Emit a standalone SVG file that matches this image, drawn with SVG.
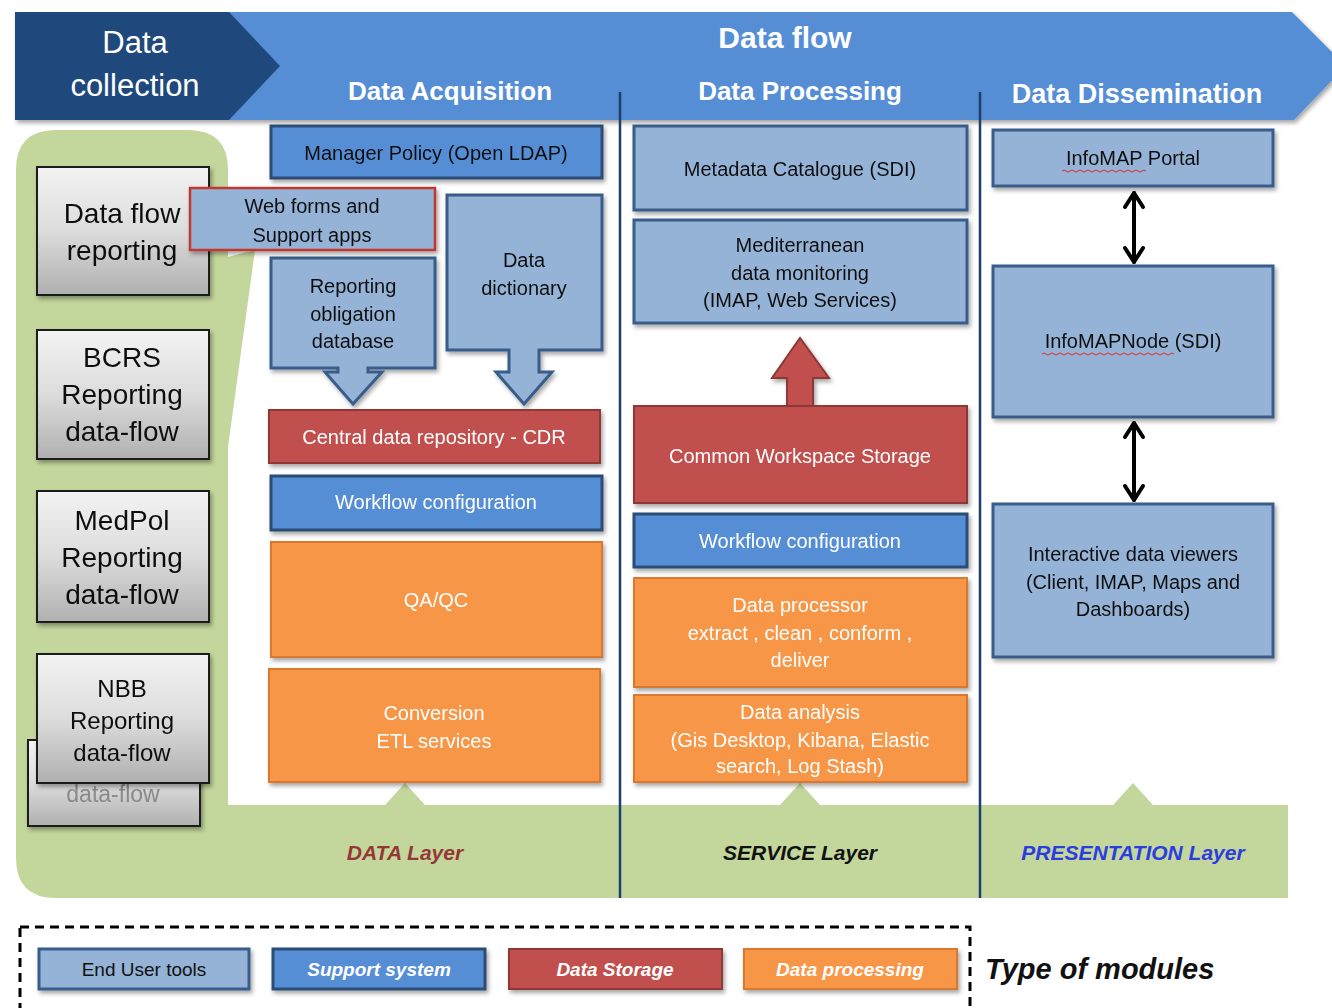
<svg xmlns="http://www.w3.org/2000/svg" width="1332" height="1008" viewBox="0 0 1332 1008">
<defs>
<style>
.t{font-family:"Liberation Sans",Arial,sans-serif;text-anchor:middle}
.w{fill:#ffffff}
.k{fill:#111111}
.eu{fill:#95b3d7;stroke:#385d8a;stroke-width:3}
.ss{fill:#558ed5;stroke:#2c4d75;stroke-width:3}
.ds{fill:#c0504d;stroke:#8c3836;stroke-width:2}
.dp{fill:#f79646;stroke:#d9782e;stroke-width:2}
.gr{fill:url(#gg);stroke:#1a1a1a;stroke-width:2}
.sep{stroke:#1f3f6e;stroke-width:2.5;fill:none}
.dbl{stroke:#000;stroke-width:4;fill:none;stroke-linecap:round;stroke-linejoin:round}
.sq{stroke:#e0262b;stroke-width:1;fill:none}
.lay{font-family:"Liberation Sans",Arial,sans-serif;font-weight:bold;font-style:italic;font-size:21px;text-anchor:middle}
.lg{font-family:"Liberation Sans",Arial,sans-serif;font-size:19px;text-anchor:middle}
</style>
<linearGradient id="gg" x1="0" y1="0" x2="0" y2="1">
<stop offset="0" stop-color="#f3f3f3"/>
<stop offset="0.5" stop-color="#dcdcdc"/>
<stop offset="1" stop-color="#b0b0b0"/>
</linearGradient>
<filter id="sh" x="-10%" y="-10%" width="130%" height="140%">
<feDropShadow dx="2" dy="3" stdDeviation="2" flood-color="#000" flood-opacity="0.35"/>
</filter>
</defs>
<rect width="1332" height="1008" fill="#ffffff"/>

<!-- banner -->
<g id="banner">
<polygon points="15,12 1292,12 1346,66 1294,120 15,120" fill="#558ed5" filter="url(#sh)"/>
<polygon points="15,12 229,12 280,66 229,120 15,120" fill="#1f497d"/>
<text class="t w" x="135" y="53" font-size="31">Data</text>
<text class="t w" x="135" y="96" font-size="31">collection</text>
<text class="t w" x="785" y="48" font-size="30" font-weight="bold">Data flow</text>
<text class="t w" x="450" y="100" font-size="26" font-weight="bold">Data Acquisition</text>
<text class="t w" x="800" y="100" font-size="26" font-weight="bold">Data Processing</text>
<text class="t w" x="1137" y="103" font-size="27" font-weight="bold">Data Dissemination</text>
</g>

<!-- green layer background -->
<g id="layers">
<path d="M16,170 Q16,130 56,130 L188,130 Q228,130 228,170 L228,257 L255,250 L228,447 L228,805 L385,805 L405,783 L425,805 L780,805 L800,783 L820,805 L1113,805 L1133,783 L1153,805 L1288,805 L1288,898 L56,898 Q16,898 16,858 Z" fill="#c3d69b"/>
<text class="lay" x="405" y="860" fill="#953735">DATA Layer</text>
<text class="lay" x="800" y="860" fill="#111111">SERVICE Layer</text>
<text class="lay" x="1133" y="860" fill="#2b3ce0">PRESENTATION Layer</text>
</g>

<!-- column separators -->
<g id="separators">
<line class="sep" x1="620" y1="92" x2="620" y2="898"/>
<line class="sep" x1="980" y1="92" x2="980" y2="898"/>
</g>

<!-- data collection boxes -->
<g id="n-dataflow-reporting" filter="url(#sh)">
<rect class="gr" x="37" y="167" width="172" height="128"/>
<text class="t k" x="122" y="223" font-size="28">Data flow</text>
<text class="t k" x="122" y="260" font-size="28">reporting</text>
</g>
<g id="n-bcrs" filter="url(#sh)">
<rect class="gr" x="37" y="330" width="172" height="129"/>
<text class="t k" x="122" y="367" font-size="28">BCRS</text>
<text class="t k" x="122" y="404" font-size="28">Reporting</text>
<text class="t k" x="122" y="441" font-size="28">data-flow</text>
</g>
<g id="n-medpol" filter="url(#sh)">
<rect class="gr" x="37" y="491" width="172" height="131"/>
<text class="t k" x="122" y="530" font-size="28">MedPol</text>
<text class="t k" x="122" y="567" font-size="28">Reporting</text>
<text class="t k" x="122" y="604" font-size="28">data-flow</text>
</g>
<g id="n-back" filter="url(#sh)">
<rect class="gr" x="28" y="740" width="172" height="86"/>
<text class="t" x="113" y="802" font-size="23" fill="#8a8a8a">data-flow</text>
</g>
<g id="n-nbb" filter="url(#sh)">
<rect class="gr" x="37" y="654" width="172" height="129"/>
<text class="t k" x="122" y="697" font-size="24">NBB</text>
<text class="t k" x="122" y="729" font-size="24">Reporting</text>
<text class="t k" x="122" y="761" font-size="24">data-flow</text>
</g>

<!-- acquisition -->
<g id="n-manager-policy" filter="url(#sh)">
<rect class="ss" x="271" y="126" width="331" height="52"/>
<text class="t k" x="436" y="160" font-size="20">Manager Policy (Open LDAP)</text>
</g>
<g id="n-reporting-obligation" filter="url(#sh)">
<path class="eu" d="M271,258 H435 V368 H368 V372 H382 L353,404 L325,372 H338 V368 H271 Z"/>
<text class="t k" x="353" y="293" font-size="20">Reporting</text>
<text class="t k" x="353" y="321" font-size="20">obligation</text>
<text class="t k" x="353" y="348" font-size="20">database</text>
</g>
<g id="n-data-dictionary" filter="url(#sh)">
<path class="eu" d="M447,195 H602 V350 H539 V372 H552 L524,404 L496,372 H509 V350 H447 Z"/>
<text class="t k" x="524" y="267" font-size="20">Data</text>
<text class="t k" x="524" y="295" font-size="20">dictionary</text>
</g>
<g id="n-webforms" filter="url(#sh)">
<rect x="190" y="188" width="245" height="62" fill="#95b3d7" stroke="#c0392f" stroke-width="2.5"/>
<text class="t k" x="312" y="213" font-size="20">Web forms and</text>
<text class="t k" x="312" y="242" font-size="20">Support apps</text>
</g>
<g id="n-cdr" filter="url(#sh)">
<rect class="ds" x="269" y="410" width="331" height="53"/>
<text class="t w" x="434" y="444" font-size="20">Central data repository  - CDR</text>
</g>
<g id="n-workflow-acq" filter="url(#sh)">
<rect class="ss" x="271" y="476" width="331" height="54"/>
<text class="t w" x="436" y="509" font-size="20">Workflow configuration</text>
</g>
<g id="n-qaqc" filter="url(#sh)">
<rect class="dp" x="271" y="542" width="331" height="115"/>
<text class="t w" x="436" y="607" font-size="20">QA/QC</text>
</g>
<g id="n-conversion" filter="url(#sh)">
<rect class="dp" x="269" y="669" width="331" height="113"/>
<text class="t w" x="434" y="720" font-size="20">Conversion</text>
<text class="t w" x="434" y="748" font-size="20">ETL services</text>
</g>

<!-- processing -->
<g id="n-metadata" filter="url(#sh)">
<rect class="eu" x="634" y="126" width="333" height="84"/>
<text class="t k" x="800" y="176" font-size="20">Metadata Catalogue (SDI)</text>
</g>
<g id="n-mediterranean" filter="url(#sh)">
<rect class="eu" x="634" y="220" width="333" height="103"/>
<text class="t k" x="800" y="252" font-size="20">Mediterranean</text>
<text class="t k" x="800" y="280" font-size="20">data monitoring</text>
<text class="t k" x="800" y="307" font-size="20">(IMAP, Web Services)</text>
</g>
<g id="n-common-workspace" filter="url(#sh)">
<path d="M787,408 V378 H772 L800,338 L829,378 H813 V408 Z" fill="#c0504d" stroke="#8c3836" stroke-width="2"/>
<rect class="ds" x="634" y="406" width="333" height="97"/>
<text class="t w" x="800" y="463" font-size="20">Common Workspace Storage</text>
</g>
<g id="n-workflow-proc" filter="url(#sh)">
<rect class="ss" x="634" y="514" width="333" height="53"/>
<text class="t w" x="800" y="548" font-size="20">Workflow configuration</text>
</g>
<g id="n-data-processor" filter="url(#sh)">
<rect class="dp" x="634" y="578" width="333" height="109"/>
<text class="t w" x="800" y="612" font-size="20">Data processor</text>
<text class="t w" x="800" y="640" font-size="20">extract , clean , conform ,</text>
<text class="t w" x="800" y="667" font-size="20">deliver</text>
</g>
<g id="n-data-analysis" filter="url(#sh)">
<rect class="dp" x="634" y="695" width="333" height="87"/>
<text class="t w" x="800" y="719" font-size="20">Data analysis</text>
<text class="t w" x="800" y="747" font-size="20">(Gis Desktop, Kibana, Elastic</text>
<text class="t w" x="800" y="773" font-size="20">search, Log Stash)</text>
</g>

<!-- dissemination -->
<g id="n-infomap-portal" filter="url(#sh)">
<rect class="eu" x="993" y="130" width="280" height="56"/>
<text class="t k" x="1133" y="165" font-size="20">InfoMAP Portal</text>
<path class="sq" d="M1062,171 q2,-2 4,0 t4,0 t4,0 t4,0 t4,0 t4,0 t4,0 t4,0 t4,0 t4,0 t4,0 t4,0 t4,0 t4,0 t4,0 t4,0 t4,0 t4,0 t4,0 t4,0 t4,0"/>
</g>
<g id="n-infomapnode" filter="url(#sh)">
<rect class="eu" x="993" y="266" width="280" height="151"/>
<text class="t k" x="1133" y="348" font-size="20">InfoMAPNode (SDI)</text>
<path class="sq" d="M1042,354 q2,-2 4,0 t4,0 t4,0 t4,0 t4,0 t4,0 t4,0 t4,0 t4,0 t4,0 t4,0 t4,0 t4,0 t4,0 t4,0 t4,0 t4,0 t4,0 t4,0 t4,0 t4,0 t4,0 t4,0 t4,0 t4,0 t4,0 t4,0 t4,0 t4,0 t4,0 t4,0 t4,0 t4,0"/>
</g>
<g id="n-interactive" filter="url(#sh)">
<rect class="eu" x="993" y="504" width="280" height="153"/>
<text class="t k" x="1133" y="561" font-size="20">Interactive data viewers</text>
<text class="t k" x="1133" y="589" font-size="20">(Client, IMAP, Maps and</text>
<text class="t k" x="1133" y="616" font-size="20">Dashboards)</text>
</g>

<!-- connectors -->
<g id="connectors">
<line class="dbl" x1="1134" y1="193" x2="1134" y2="262"/>
<polyline class="dbl" points="1125,207 1134,193 1143,207"/>
<polyline class="dbl" points="1125,248 1134,262 1143,248"/>
<line class="dbl" x1="1134" y1="423" x2="1134" y2="500"/>
<polyline class="dbl" points="1125,437 1134,423 1143,437"/>
<polyline class="dbl" points="1125,486 1134,500 1143,486"/>
</g>

<!-- legend -->
<g id="legend">
<rect x="20" y="927" width="950" height="90" fill="none" stroke="#000" stroke-width="3" stroke-dasharray="9,6"/>
<g filter="url(#sh)">
<rect class="eu" x="39" y="949" width="210" height="40"/>
<rect class="ss" x="273" y="949" width="212" height="40"/>
<rect class="ds" x="509" y="949" width="213" height="40"/>
<rect class="dp" x="744" y="949" width="213" height="40"/>
</g>
<text class="lg k" x="144" y="976">End User tools</text>
<text class="lg w" x="379" y="976" font-weight="bold" font-style="italic">Support system</text>
<text class="lg w" x="615" y="976" font-weight="bold" font-style="italic">Data Storage</text>
<text class="lg w" x="850" y="976" font-weight="bold" font-style="italic">Data processing</text>
<text x="985" y="979" font-family="'Liberation Sans',Arial,sans-serif" font-size="29" font-weight="bold" font-style="italic" fill="#111">Type of modules</text>
</g>
</svg>
